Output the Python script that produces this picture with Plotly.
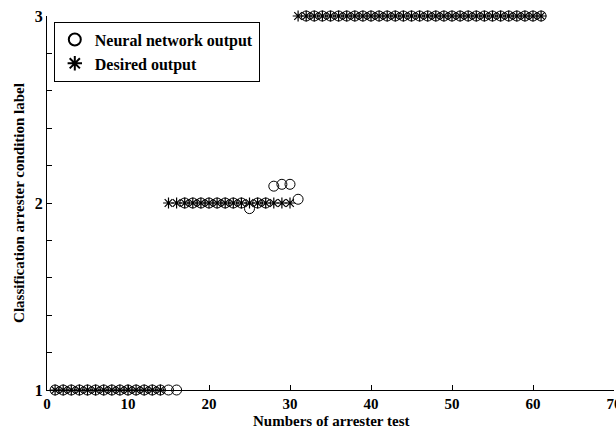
import plotly.graph_objects as go

# Network output (circles)
nn_x = list(range(1, 62))
nn_y = ([1.0] * 16 +                                  # tests 1-16
        [2.0, 2.0, 2.0, 2.0, 2.0, 2.0, 2.0, 2.0,      # 17-24
         1.97, 2.0, 2.0, 2.09, 2.10, 2.10, 2.02] +    # 25-31
        [3.0] * 30)                                   # 32-61

# Desired output (stars)
des_x = list(range(1, 62))
des_y = [1.0] * 14 + [2.0] * 16 + [3.0] * 31

x_ticks = [0, 10, 20, 30, 40, 50, 60, 70]
x_title = "Numbers of arrester test"
y_title = "Classification arrester condition label"

font_family = "Liberation Serif"
H, T, B = 430, 16, 40
plot_h = H - T - B

fig = go.Figure()
fig.add_trace(go.Scatter(
    x=nn_x, y=nn_y, mode="markers", name="<b>Neural network output</b>",
    marker=dict(symbol="circle-open", size=10, color="black", line=dict(width=1)),
    cliponaxis=False))
fig.add_trace(go.Scatter(
    x=des_x, y=des_y, mode="markers", name="<b>Desired output</b>",
    marker=dict(symbol="asterisk-open", size=9, color="black", line=dict(width=1.2, color="black")),
    cliponaxis=False))

fig.add_annotation(text=f"<b>{x_title}</b>", xref="paper", yref="paper",
                   x=0.5, y=-B / plot_h, xanchor="center", yanchor="bottom",
                   showarrow=False, borderpad=0,
                   font=dict(family=font_family, size=15, color="black"))

fig.update_layout(
    width=616, height=H,
    margin=dict(l=47, r=2, t=T, b=B),
    plot_bgcolor="white", paper_bgcolor="white",
    font=dict(family=font_family, color="black", size=16),
    showlegend=True,
    legend=dict(x=0.012, y=0.985, xanchor="left", yanchor="top",
                bordercolor="black", borderwidth=1, bgcolor="white",
                font=dict(family=font_family, size=16, color="black"),
                itemsizing="constant", tracegroupgap=0),
    xaxis=dict(range=[0, 70.0001], tickvals=x_ticks, ticktext=[f"<b>{v}</b>" for v in x_ticks],
               ticklabeloverflow="allow", automargin=False,
               showline=True, linecolor="black",
               linewidth=1, ticks="inside", ticklen=5, tickcolor="black",
               showgrid=False, zeroline=False, mirror=False,
               tickfont=dict(family=font_family, size=15, color="black")),
    yaxis=dict(range=[1, 3], tickvals=[1, 2, 3], ticktext=["<b>1</b>", "<b>2</b>", "<b>3</b>"],
               showline=True, linecolor="black", automargin=False,
               linewidth=1, ticks="inside", ticklen=5, tickcolor="black",
               showgrid=False, zeroline=False, mirror=False,
               minor=dict(dtick=0.2, tick0=1, ticks="inside", ticklen=5, tickcolor="black", showgrid=False),
               tickfont=dict(family=font_family, size=16, color="black"),
               title=dict(text=f"<b>{y_title}</b>", standoff=6,
                          font=dict(family=font_family, size=15, color="black"))),
)

fig.write_html("out.html")
